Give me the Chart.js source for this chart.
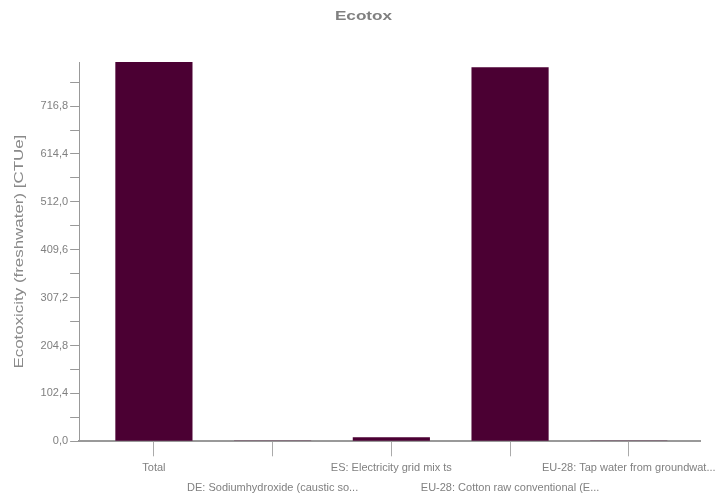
<!DOCTYPE html>
<html>
<head>
<meta charset="utf-8">
<script src="https://cdn.jsdelivr.net/npm/chart.js@4.4.1/dist/chart.umd.min.js"></script>
<style>
html,body{margin:0;padding:0;background:#fff;}
#wrap{width:723px;height:497px;}
</style>
</head>
<body>
<div id="wrap"><canvas id="c" width="723" height="497"></canvas></div>
<script>
const categories = [
  "Total",
  "DE: Sodiumhydroxide (caustic so...",
  "ES: Electricity grid mix ts",
  "EU-28: Cotton raw conventional (E...",
  "EU-28: Tap water from groundwat..."
];
const values = [811, 1.5, 8.6, 800, 0.6];
const yTickStep = 102.4;
const chartTitle = 'Ecotox';
const yTitle = 'Ecotoxicity (freshwater) [CTUe]';

const TITLE_FONT = {family: 'Liberation Sans', size: 12, weight: 'bold', lineHeight: 1.2};
const YTITLE_FONT = {family: 'Liberation Sans', size: 13, lineHeight: 1.2};

// Draws the (horizontally stretched) titles in the spaces Chart.js reserved for them
const stretchedTitles = {
  id: 'stretchedTitles',
  afterDraw(chart) {
    const ctx = chart.ctx;
    const tb = chart.titleBlock;
    ctx.save();
    ctx.fillStyle = '#808080';
    ctx.textAlign = 'center';
    ctx.textBaseline = 'middle';
    // chart title, centred on the canvas
    ctx.font = 'bold ' + TITLE_FONT.size + 'px "' + TITLE_FONT.family + '"';
    const tcx = chart.width / 2 + 2;
    const tcy = tb.top + tb.options.padding.top + TITLE_FONT.size * TITLE_FONT.lineHeight / 2;
    ctx.save();
    ctx.translate(tcx, tcy);
    ctx.scale(1.43, 1);
    ctx.fillText(chartTitle, 0, 0);
    ctx.restore();
    // y-axis title
    const ys = chart.scales.y;
    ctx.font = YTITLE_FONT.size + 'px "' + YTITLE_FONT.family + '"';
    ctx.fillStyle = '#8a8a8a';
    const ycx = ys.left + ys.options.title.padding.top + YTITLE_FONT.size * YTITLE_FONT.lineHeight / 2;
    const ycy = (ys.top + ys.bottom) / 2;
    ctx.save();
    ctx.translate(ycx, ycy);
    ctx.rotate(-Math.PI / 2);
    ctx.scale(1.3, 1);
    ctx.fillText(yTitle, 0, 0);
    ctx.restore();
    ctx.restore();
  }
};

new Chart(document.getElementById('c'), {
  type: 'bar',
  data: {
    datasets: [{
      data: values.map((v, i) => ({x: i, y: v})),
      backgroundColor: '#4b0033',
      borderWidth: 0,
      barPercentage: 0.65,
      categoryPercentage: 1.0
    }]
  },
  options: {
    responsive: false,
    animation: false,
    layout: {padding: {left: 5, right: 23, top: 0, bottom: -2}},
    plugins: {
      legend: {display: false},
      tooltip: {enabled: false},
      title: {
        display: true,
        text: chartTitle,
        color: 'rgba(0,0,0,0)',
        font: TITLE_FONT,
        padding: {top: 9, bottom: 38.6}
      }
    },
    scales: {
      x: {
        type: 'linear',
        offset: false,
        min: -0.63,
        max: 4.6,
        afterBuildTicks(scale){ scale.ticks = categories.map((_, i) => ({value: i})); },
        grid: {display: true, offset: false, drawOnChartArea: false, drawTicks: true, tickLength: 15, color: '#aaaaaa'},
        border: {display: true, color: '#999999', width: 2},
        ticks: {
          color: '#808080',
          font: {family: 'Liberation Sans', size: 11, lineHeight: 1.85},
          padding: 1,
          maxRotation: 0,
          autoSkip: false,
          callback: (v) => {
            const i = Math.round(v);
            const l = categories[i];
            return i % 2 === 1 ? ['', l] : [l, ''];
          }
        }
      },
      y: {
        min: 0,
        max: values[0],
        grid: {display: true, drawOnChartArea: false, drawTicks: true, tickLength: 9, color: '#999999'},
        border: {display: true, color: '#999999', width: 1},
        title: {
          display: true,
          text: yTitle,
          color: 'rgba(0,0,0,0)',
          font: YTITLE_FONT,
          padding: {top: 7, bottom: 11}
        },
        ticks: {
          stepSize: yTickStep / 2,
          includeBounds: false,
          color: '#808080',
          font: {family: 'Liberation Sans', size: 11},
          padding: 2,
          callback: (v) => {
            const k = Math.round(v / (yTickStep / 2));
            if (k % 2 !== 0) return '';
            return (k / 2 * yTickStep).toFixed(1).replace('.', ',');
          }
        }
      }
    }
  },
  plugins: [stretchedTitles]
});
</script>
</body>
</html>
